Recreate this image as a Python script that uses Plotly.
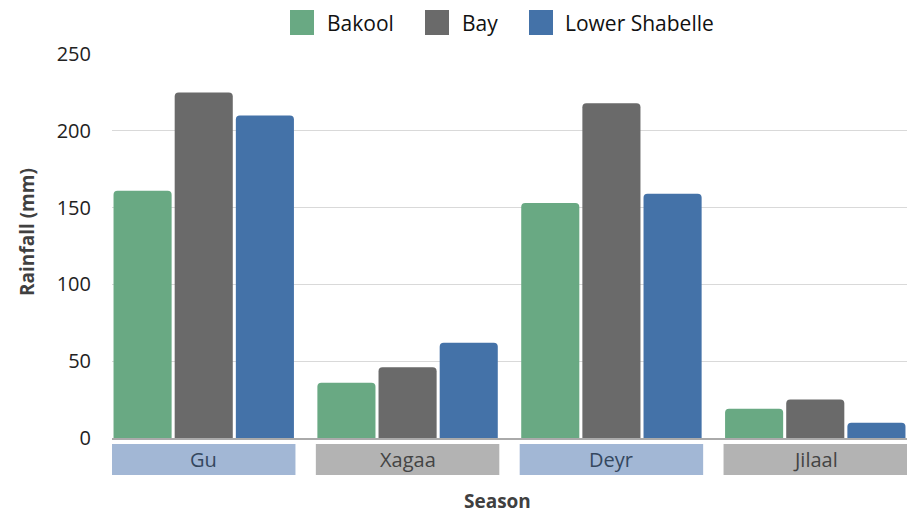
import plotly.graph_objects as go

seasons = ["Gu", "Xagaa", "Deyr", "Jilaal"]
series_names = ["Bakool", "Bay", "Lower Shabelle"]
bakool = [161, 36, 153, 19]
bay = [225, 46, 218, 25]
lower_shabelle = [210, 62, 159, 10]
y_ticks = [0, 50, 100, 150, 200, 250]

series_values = [bakool, bay, lower_shabelle]
colors = ["#69a983", "#6a6a6a", "#4472a8"]
box_colors = ["#a2b7d5", "#b3b3b3", "#a2b7d5", "#b3b3b3"]
box_text_colors = ["#34475f", "#444444", "#34475f", "#444444"]

W, H = 917, 514
L, R, T, B = 112, 907, 54, 438
FONT = "Open Sans"


def px(x):
    return (x - L) / (R - L)


def py(y):
    return (B - y) / (B - T)


fig = go.Figure()
xs = list(range(len(seasons)))
for name, vals, col in zip(series_names, series_values, colors):
    fig.add_trace(go.Bar(
        x=xs, y=vals, name=name, marker=dict(color=col, cornerradius=4,
                                             line=dict(width=0)),
        showlegend=False,
    ))

shapes = []
annotations = []
for i, s in enumerate(seasons):
    shapes.append(dict(type="rect", xref="x", yref="paper",
                       x0=i - 0.45, x1=i + 0.45, y0=py(475), y1=py(444),
                       fillcolor=box_colors[i], line=dict(width=0), layer="below"))
    annotations.append(dict(text=s, xref="x", yref="paper", x=i, y=py(459.5),
                            showarrow=False, xanchor="center", yanchor="middle",
                            font=dict(family=FONT, size=20, color=box_text_colors[i])))

# manual legend
sq_x = [290, 425, 529]
txt_x = [325, 460, 563]
for name, col, sx, tx in zip(series_names, colors, sq_x, txt_x):
    shapes.append(dict(type="rect", xref="paper", yref="paper",
                       x0=px(sx), x1=px(sx + 24), y0=py(35), y1=py(10),
                       fillcolor=col, line=dict(width=0)))
    annotations.append(dict(text=name, xref="paper", yref="paper", x=px(tx), y=py(22.5),
                            showarrow=False, xanchor="left", yanchor="middle",
                            font=dict(family=FONT, size=21, color="#111111")))

annotations.append(dict(text="<b>Rainfall (mm)</b>", xref="paper", yref="paper",
                        x=px(27), y=py(232), textangle=-90, showarrow=False,
                        xanchor="center", yanchor="middle",
                        font=dict(family=FONT, size=19, color="#404040")))
annotations.append(dict(text="<b>Season</b>", xref="paper", yref="paper",
                        x=px(497), y=py(501), showarrow=False,
                        xanchor="center", yanchor="middle",
                        font=dict(family=FONT, size=19, color="#404040")))

fig.update_layout(
    width=W, height=H,
    margin=dict(l=L, r=W - R, t=T, b=H - B, pad=0),
    paper_bgcolor="white", plot_bgcolor="white",
    barmode="group", bargap=0.1, bargroupgap=0.05,
    font=dict(family=FONT, size=19, color="#222222"),
    shapes=shapes, annotations=annotations,
    xaxis=dict(range=[-0.45, 3.45], showticklabels=False, showgrid=False,
               showline=True, linecolor="#aaaaaa", linewidth=2, zeroline=False,
               fixedrange=True),
    yaxis=dict(range=[0, 250], tickvals=y_ticks, showgrid=True, gridcolor="#d9d9d9",
               gridwidth=1, zeroline=False, showline=False,
               ticks="outside", ticklen=16, tickcolor="rgba(0,0,0,0)",
               tickfont=dict(family=FONT, size=20, color="#222222")),
)

fig.write_html("out.html")
